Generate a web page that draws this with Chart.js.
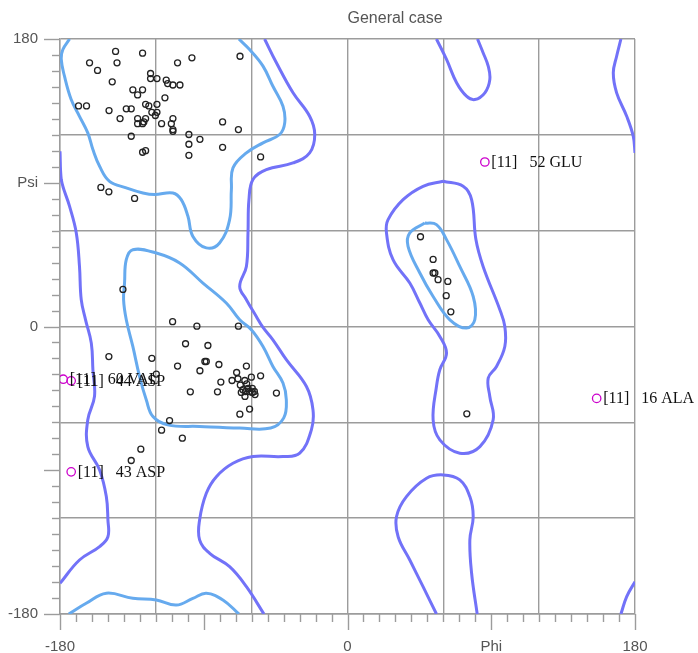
<!DOCTYPE html>
<html><head><meta charset="utf-8">
<script src="https://cdn.jsdelivr.net/npm/chart.js@4/dist/chart.umd.min.js"></script>
<style>html,body{margin:0;padding:0;background:#fff;}#wrap{width:698px;height:653px;}</style>
</head><body><div id="wrap"><canvas id="c" width="698" height="653" style="width:698px;height:653px"></canvas></div>
<script>
// ---- residues (phi, psi) ----
const residuePhi = [-145.2,-128.3,-161.5,-144.3,-156.5,-97.4,-106.4,-67.3,-123.3,-123.3,-119.3,-113.5,-112.6,-109.3,-104.9,-147.3,-134.4,-128.3,-131.4,-114.3,-168.4,-163.4,-149.3,-138.5,-135.4,-126.4,-124.4,-119.3,-122.5,-119.3,-120.3,-142.4,-131.4,-126.4,-131.4,-128.3,-127.5,-116.4,-109.3,-110.3,-109.3,-109.3,-78.2,-68.3,-135.4,-99.3,-92.4,-99.3,-78.2,-99.3,-128.3,-126.4,-54.4,-154.4,-149.4,-133.3,
 -140.6,-109.5,-94.3,-68.3,-101.4,-87.4,-149.4,-122.5,-106.4,-89.3,-88.4,-80.5,-63.3,-92.4,-69.4,-119.7,-60.2,-54.4,-72.3,-68.6,-79.3,-64.3,-63.1,-67.1,-65.5,-63.9,-62.3,-59.6,-58.3,-64.2,-57.9,-61.3,-66.5,-59.6,-98.4,-81.4,-44.5,-61.3,-67.4,-111.4,-116.4,-103.4,-129.4,-135.4,
 45.7,53.6,53.6,54.7,56.7,62.8,61.8,64.7,74.7];
const residuePsi = [172.2,171.1,165.1,165.1,160.3,168.2,165.1,169.2,158.4,155.2,155.2,154.2,152.1,151.2,151.2,153.2,148.2,148.2,145.0,143.2,138.1,138.1,135.2,136.3,136.3,139.1,138.1,139.1,134.1,134.1,132.1,130.2,130.2,130.2,127.0,127.0,128.1,127.0,130.2,127.0,123.3,122.2,128.1,123.3,119.1,120.2,117.2,114.1,112.2,107.2,109.1,110.1,106.2,87.1,84.3,80.2,
 23.2,3.0,0.2,0.2,-10.8,-11.9,-18.8,-19.9,-24.8,-21.9,-21.9,-23.8,-24.8,-27.7,-28.8,-29.8,-31.7,-30.9,-33.8,-32.7,-34.8,-33.8,-35.9,-36.7,-39.6,-40.7,-38.8,-38.8,-40.7,-43.8,-42.6,-40.7,-41.3,-41.3,-40.9,-40.9,-41.7,-51.7,-54.9,-58.9,-64.9,-69.9,-76.8,-83.9,
 56.2,42.0,33.5,33.5,29.3,28.2,19.3,9.2,-54.7];

// ---- outliers ----
const outlierPhi = [86, 156, -173, -178, -173];
const outlierPsi = [103, -45, -91, -33, -34];
const outlierNames = ['52 GLU', '16 ALA', '43 ASP', '60 VAL', '44 ASP'];
const outlierTag = '[11]';

// ---- axis labels ----
const xTickLabels = {'-180':'-180','0':'0','90':'Phi','180':'180'};
const yTickLabels = {'-180':'-180','0':'0','90':'Psi','180':'180'};
const titleText = 'General case';

// ---- contours (phi, psi) ----
const favoredBeta = [[-174.0,180],[-178.2,173.4],[-179.2,167.2],[-177.2,156.7],[-173.0,142.1],[-167.8,131.6],[-162.6,121.2],[-159.4,110.8],[-155.2,100.3],[-149.0,90.9],[-138.5,86.8],[-128.1,83.6],[-120.8,82.6],[-109.3,83.6],[-104.1,79.4],[-99.9,69.0],[-96.8,56.4],[-88.4,49.2],[-80.1,52.3],[-73.8,66.9],[-72.7,85.7],[-71.7,99.3],[-63.3,108.7],[-52.9,115.0],[-42.5,120.2],[-39.3,127.5],[-40.4,137.9],[-46.7,150.4],[-52.9,163.0],[-61.3,173.4],[-68.0,180]];
const favoredAlpha = [[-139.6,27.2],[-138.5,41.8],[-134.4,48.1],[-119.7,46.0],[-105.1,39.8],[-90.5,27.2],[-75.9,14.7],[-67.5,4.2],[-60.2,-2.0],[-52.9,-12.5],[-46.7,-25.0],[-40.4,-35.4],[-38.3,-45.9],[-39.9,-57.2],[-48.1,-63.6],[-67.5,-63.6],[-92.6,-62.6],[-112.6,-61.6],[-121.8,-56.4],[-126.0,-45.9],[-130.2,-31.3],[-134.4,-12.5],[-138.5,4.2],[-140.2,16.8],[-139.6,27.2]];
const favoredBottom = [[-174.5,-180],[-163.6,-173.3],[-151.0,-167.0],[-134.4,-170.2],[-119.7,-171.2],[-107.2,-174.4],[-96.8,-170.2],[-88.4,-167.0],[-78.0,-171.2],[-68.0,-180]];
const favoredAlphaL = [[48.4,64.8],[39.0,58.6],[37.9,50.2],[45.3,33.5],[53.6,18.8],[64.1,4.2],[74.5,-1.0],[79.7,4.2],[78.7,18.8],[70.3,37.6],[62.0,54.4],[55.7,63.8],[48.4,64.8]];
const allowedCentral = [[-51.9,180],[-44.5,165.1],[-34.1,146.3],[-23.7,131.6],[-20.5,120.2],[-23.7,108.7],[-34.1,102.4],[-50.8,98.2],[-59.2,92.0],[-61.7,79.4],[-62.3,58.6],[-63.3,37.6],[-67.5,25.1],[-63.3,16.8],[-57.1,6.3],[-52.9,-0.6],[-46.7,-8.3],[-38.3,-20.8],[-25.7,-37.6],[-21.6,-52.2],[-22.6,-64.7],[-29.9,-79.3],[-40.4,-81.4],[-59.2,-81.4],[-71.7,-85.6],[-82.1,-94.0],[-88.4,-104.4],[-92.6,-121.1],[-92.6,-133.6],[-86.3,-142.0],[-73.8,-150.4],[-63.3,-162.9],[-52.3,-180]];
const allowedLeft = [[-180,109.7],[-179.2,92.0],[-174.0,75.2],[-169.8,58.6],[-167.8,37.6],[-166.7,16.8],[-164.0,4.2],[-160.4,-10.4],[-159.4,-27.1],[-158.4,-43.8],[-162.6,-58.4],[-162.6,-75.2],[-155.2,-89.8],[-151.0,-106.5],[-150.0,-121.1],[-150.0,-131.6],[-155.2,-137.8],[-167.8,-146.2],[-180,-160.8]];
const allowedRightTop = [[171.2,180],[168.5,169.2],[166.4,158.8],[168.5,146.3],[174.8,131.6],[178.9,119.1],[180,108.7]];
const allowedRightBottom = [[171.2,-180],[174.8,-169.1],[180,-159.8]];
const allowedTopMid = [[55.7,180],[62.0,167.2],[68.3,152.6],[74.5,144.2],[79.7,142.1],[86.0,146.3],[89.1,154.6],[88.1,163.0],[84.9,171.4],[81.4,180]];
const allowedBottomMid = [[55.7,-180],[47.3,-162.9],[39.0,-146.2],[31.7,-131.6],[30.7,-119.0],[36.9,-106.5],[49.5,-95.0],[59.9,-92.9],[70.3,-96.0],[76.6,-106.5],[78.7,-119.0],[76.6,-133.6],[77.7,-154.5],[81.2,-180]];
const allowedAlphaL = [[59.9,90.9],[47.3,87.8],[34.8,79.4],[25.4,66.9],[24.4,58.6],[28.5,41.8],[39.0,27.2],[45.3,14.7],[50.5,4.2],[57.8,-6.2],[62.0,-16.6],[57.8,-27.1],[55.7,-37.6],[53.6,-58.4],[57.8,-71.0],[70.3,-79.3],[82.9,-75.2],[91.2,-58.4],[89.1,-43.8],[88.1,-32.3],[93.3,-25.0],[98.5,-12.5],[98.5,0.0],[95.4,10.5],[84.9,37.6],[80.4,54.4],[77.7,79.4],[72.4,87.8],[59.9,90.9]];

const GRID = '#9c9c9c';
const FAVORED = '#66aaee';
const ALLOWED = '#7272f8';
const TEXT = '#555555';

function toXY(list){ return list.map(p => ({x:p[0], y:p[1]})); }
function contour(list, color){
  return {data:toXY(list), showLine:true, borderColor:color, borderWidth:3, pointRadius:0, tension:0.4, fill:false, clip:0, order:5};
}

const datasets = [
  {data: residuePhi.map((v,i)=>({x:v, y:residuePsi[i]})), showLine:false, pointRadius:3, pointBorderWidth:1.3, borderColor:'#222', backgroundColor:'rgba(0,0,0,0)', order:0},
  {data: outlierPhi.map((v,i)=>({x:v, y:outlierPsi[i]})), showLine:false, pointRadius:4.2, pointBorderWidth:1.3, borderColor:'#cc00cc', backgroundColor:'rgba(0,0,0,0)', order:0},
  contour(favoredBeta, FAVORED), contour(favoredAlpha, FAVORED), contour(favoredBottom, FAVORED), contour(favoredAlphaL, FAVORED),
  contour(allowedCentral, ALLOWED), contour(allowedLeft, ALLOWED), contour(allowedRightTop, ALLOWED), contour(allowedRightBottom, ALLOWED),
  contour(allowedTopMid, ALLOWED), contour(allowedBottomMid, ALLOWED), contour(allowedAlphaL, ALLOWED)
];

const gridColor = ctx => (ctx.tick && Math.round(ctx.tick.value) % 60 === 0) ? GRID : 'rgba(0,0,0,0)';

const decor = {
  id:'decor',
  afterDraw(chart){
    const ctx = chart.ctx, xs = chart.scales.x, ys = chart.scales.y, a = chart.chartArea;
    ctx.save();
    ctx.strokeStyle = GRID; ctx.lineWidth = 1.4;
    for (let v = -180; v <= 180; v += 10){
      const len = (v % 90 === 0) ? 16 : 8;
      const px = Math.round(xs.getPixelForValue(v)) + 0.5;
      ctx.beginPath(); ctx.moveTo(px, a.bottom); ctx.lineTo(px, a.bottom + len); ctx.stroke();
      const py = Math.round(ys.getPixelForValue(v)) + 0.5;
      ctx.beginPath(); ctx.moveTo(a.left, py); ctx.lineTo(a.left - len, py); ctx.stroke();
    }
    ctx.fillStyle = TEXT; ctx.font = '16px "Liberation Sans", Arial, sans-serif';
    ctx.textAlign = 'left'; ctx.textBaseline = 'middle';
    ctx.fillText(titleText, xs.getPixelForValue(0), 18.5);
    ctx.fillStyle = '#111'; ctx.font = '16px "Liberation Serif", "Times New Roman", serif';
    outlierPhi.forEach((v,i) => {
      const px = xs.getPixelForValue(v), py = ys.getPixelForValue(outlierPsi[i]);
      ctx.fillText(outlierTag + '   ' + outlierNames[i], px + 6.5, py + 0.5);
    });
    ctx.restore();
  }
};

Chart.defaults.font.family = '"Liberation Sans", Arial, sans-serif';
new Chart(document.getElementById('c'), {
  type:'scatter',
  data:{datasets},
  options:{
    responsive:false, animation:false, events:[], devicePixelRatio:1,
    layout:{padding:{top:39, right:63, left:0, bottom:0}},
    plugins:{legend:{display:false}, tooltip:{enabled:false}, title:{display:false}},
    scales:{
      x:{type:'linear', min:-180, max:180, afterFit(s){ s.height = 39; },
         ticks:{stepSize:10, autoSkip:false, maxRotation:0, minRotation:0, padding:24, color:TEXT, font:{size:15},
                callback:v => xTickLabels[String(Math.round(v))] ?? ''},
         grid:{color:gridColor, drawTicks:false, lineWidth:1.4},
         border:{display:true, color:GRID, width:1.4}},
      y:{type:'linear', min:-180, max:180, afterFit(s){ s.width = 60; },
         ticks:{stepSize:10, autoSkip:false, padding:22, color:TEXT, font:{size:15},
                callback:v => yTickLabels[String(Math.round(v))] ?? ''},
         grid:{color:gridColor, drawTicks:false, lineWidth:1.4},
         border:{display:true, color:GRID, width:1.4}}
    }
  },
  plugins:[decor]
});
</script></body></html>
